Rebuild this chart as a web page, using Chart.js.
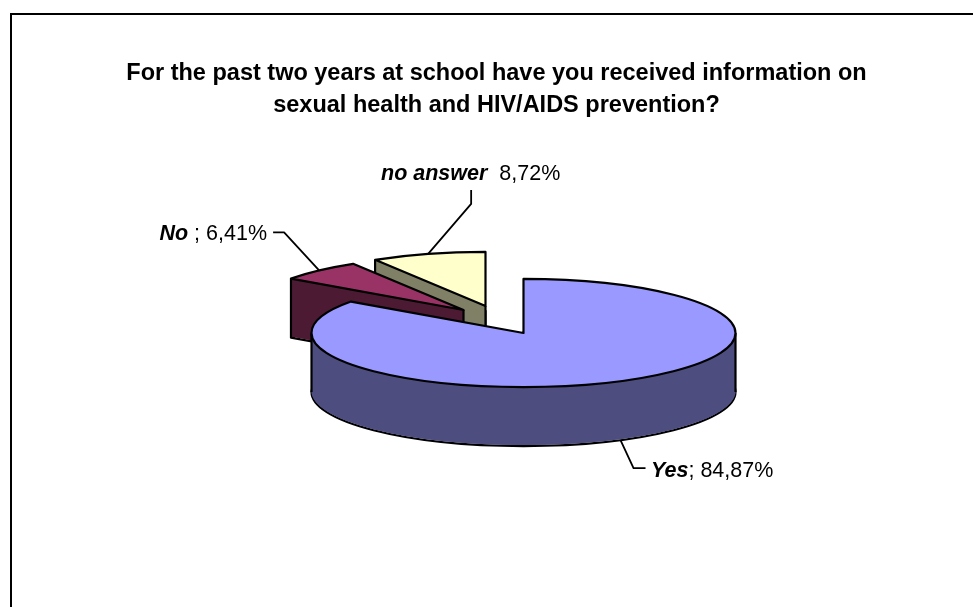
<!DOCTYPE html>
<html>
<head>
<meta charset="utf-8">
<title>HIV/AIDS prevention information at school</title>
<style>
  html, body { margin: 0; padding: 0; background: #fff; overflow: hidden; }
  canvas { display: block; }
</style>
<script src="https://cdn.jsdelivr.net/npm/chart.js@4/dist/chart.umd.min.js"></script>
</head>
<body>
<canvas id="chartPie" width="973" height="607"></canvas>
<script>
const categories = ['Yes', 'No', 'no answer'];
const shares = [84.87, 6.41, 8.72];
const separators = ['; ', ' ; ', '  '];
const titleLines = [
  'For the past two years at school have you received information on',
  'sexual health and HIV/AIDS prevention?'
];

const topColors = ['#9999FF', '#993366', '#FFFFCC'];
const wallColors = ['#4D4D80', '#4D1A33', '#808066'];

// Tilted view of the pie
const view = { x: 523.5, y: 333, tilt: 0.255, depth: 59, line: 2.2 };
// How far each slice is pulled out of the pie
const explode = [[0, 0], [-60, -23], [-38, -27]];
// Leader elbows relative to the rim, then where the label text sits
const leaders = [
  { elbow: [[13, 28], [25, 28]], text: [651, 477], side: 'left' },
  { elbow: [[-35, -38], [-46, -38]], text: [267, 240], side: 'right' },
  { elbow: [[43, -50], [43, -64]], text: [381, 180], side: 'left' }
];

function wedge(ctx, cx, cy, arc) {
  ctx.beginPath();
  ctx.moveTo(cx, cy);
  ctx.ellipse(cx, cy, arc.outerRadius, arc.outerRadius * view.tilt, 0, arc.startAngle, arc.endAngle);
  ctx.closePath();
}

// floor, the two cut faces and the part of the rim facing the viewer,
// stopping just above the lower outline
function fillWalls(ctx, cx, cy, arc) {
  const rx = arc.outerRadius;
  const ry = rx * view.tilt;
  const h = view.depth - 1;

  wedge(ctx, cx, cy + h, arc);
  ctx.fill();

  [arc.startAngle, arc.endAngle].forEach(a => {
    const ex = cx + rx * Math.cos(a);
    const ey = cy + ry * Math.sin(a);
    ctx.beginPath();
    ctx.moveTo(cx, cy);
    ctx.lineTo(ex, ey);
    ctx.lineTo(ex, ey + h);
    ctx.lineTo(cx, cy + h);
    ctx.closePath();
    ctx.fill();
  });

  const from = Math.max(arc.startAngle, 0);
  const to = Math.min(arc.endAngle, Math.PI);
  if (from < to) {
    ctx.beginPath();
    ctx.ellipse(cx, cy, rx, ry, 0, from, to);
    ctx.ellipse(cx, cy + h, rx, ry, 0, to, from, true);
    ctx.closePath();
    ctx.fill();
  }
}

// left and right extremes of a slice's top face, these get a vertical wall edge
function extremes(cx, cy, arc) {
  const pts = [[cx, cy]];
  for (let i = 0; i <= 360; i++) {
    const a = arc.startAngle + (arc.endAngle - arc.startAngle) * i / 360;
    pts.push([cx + arc.outerRadius * Math.cos(a), cy + arc.outerRadius * view.tilt * Math.sin(a)]);
  }
  let lo = pts[0], hi = pts[0];
  pts.forEach(p => {
    if (p[0] < lo[0] - 0.01 || (Math.abs(p[0] - lo[0]) <= 0.01 && p[1] > lo[1])) lo = p;
    if (p[0] > hi[0] + 0.01 || (Math.abs(p[0] - hi[0]) <= 0.01 && p[1] > hi[1])) hi = p;
  });
  return [lo, hi];
}

function drawSlice(ctx, arc, i) {
  const cx = view.x + explode[i][0];
  const cy = view.y + explode[i][1];

  ctx.strokeStyle = '#000';
  ctx.lineWidth = view.line;
  ctx.lineJoin = 'round';
  wedge(ctx, cx, cy + view.depth, arc);
  ctx.stroke();

  ctx.fillStyle = wallColors[i];
  fillWalls(ctx, cx, cy, arc);

  extremes(cx, cy, arc).forEach(p => {
    ctx.beginPath();
    ctx.moveTo(p[0], p[1]);
    ctx.lineTo(p[0], p[1] + view.depth);
    ctx.stroke();
  });

  // the top face comes from the arc element itself, squashed by the tilt
  ctx.save();
  ctx.translate(cx, cy);
  ctx.scale(1, view.tilt);
  ctx.translate(-arc.x, -arc.y);
  arc.draw(ctx);
  ctx.restore();

  wedge(ctx, cx, cy, arc);
  ctx.stroke();
}

function drawLabel(ctx, arc, i) {
  const mid = (arc.startAngle + arc.endAngle) / 2;
  const rx = view.x + explode[i][0] + arc.outerRadius * Math.cos(mid);
  let ry = view.y + explode[i][1] + arc.outerRadius * view.tilt * Math.sin(mid);
  // the front of the pie is seen on its wall, so start from the lower rim
  if (Math.sin(mid) > 0) ry += view.depth;

  const spec = leaders[i];
  ctx.strokeStyle = '#000';
  ctx.lineWidth = 1.8;
  ctx.beginPath();
  ctx.moveTo(rx, ry);
  spec.elbow.forEach(e => ctx.lineTo(rx + e[0], ry + e[1]));
  ctx.stroke();

  const name = categories[i];
  const rest = separators[i] + shares[i].toFixed(2).replace('.', ',') + '%';
  const nameFont = 'italic bold 21.5px "Liberation Sans"';
  const restFont = '21.5px "Liberation Sans"';
  ctx.fillStyle = '#000';
  ctx.textBaseline = 'alphabetic';
  ctx.textAlign = 'left';
  ctx.font = nameFont;
  const nameWidth = ctx.measureText(name).width;
  ctx.font = restFont;
  const restWidth = ctx.measureText(rest).width;
  const x = spec.side === 'left' ? spec.text[0] : spec.text[0] - nameWidth - restWidth;
  ctx.font = nameFont;
  ctx.fillText(name, x, spec.text[1]);
  ctx.font = restFont;
  ctx.fillText(rest, x + nameWidth, spec.text[1]);
}

const tiltedPie = {
  id: 'tiltedPie',
  beforeDraw(chart) {
    // only the left and top sides of the frame fall inside the page
    const ctx = chart.ctx;
    ctx.save();
    ctx.strokeStyle = '#000';
    ctx.lineWidth = 2;
    ctx.beginPath();
    ctx.moveTo(11, 607);
    ctx.lineTo(11, 14);
    ctx.lineTo(973, 14);
    ctx.stroke();
    ctx.restore();
  },
  beforeDatasetsDraw(chart) {
    const ctx = chart.ctx;
    const arcs = chart.getDatasetMeta(0).data;
    ctx.save();
    // back slices first, the big one covers them
    for (let i = arcs.length - 1; i >= 0; i--) drawSlice(ctx, arcs[i], i);
    arcs.forEach((arc, i) => drawLabel(ctx, arc, i));
    ctx.restore();
    return false;
  }
};

new Chart(document.getElementById('chartPie').getContext('2d'), {
  type: 'pie',
  data: {
    labels: categories,
    datasets: [{
      data: shares,
      backgroundColor: topColors,
      borderWidth: 0,
      radius: 212
    }]
  },
  plugins: [tiltedPie],
  options: {
    responsive: false,
    animation: false,
    layout: { padding: { left: 20, top: 58 } },
    plugins: {
      legend: { display: false },
      tooltip: { enabled: false },
      title: {
        display: true,
        text: titleLines,
        color: '#000',
        padding: 0,
        font: { family: '"Liberation Sans"', size: 23.5, weight: 'bold', lineHeight: 1.36 }
      }
    }
  }
});
</script>
</body>
</html>
